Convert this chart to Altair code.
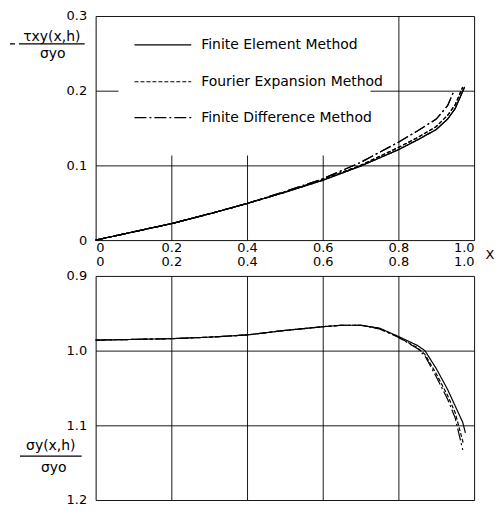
import altair as alt
import pandas as pd

methods = ["Finite Element Method", "Fourier Expansion Method", "Finite Difference Method"]

# Top panel: -tau_xy(x,h)/sigma_yo
x_top_fem = [0, 0.1, 0.2, 0.3, 0.4, 0.5, 0.6, 0.7, 0.8, 0.85, 0.9, 0.93, 0.95, 0.975]
tau_fem = [0, 0.011, 0.022, 0.035, 0.049, 0.064, 0.080, 0.099, 0.121, 0.134, 0.148, 0.162, 0.176, 0.205]
x_top_ffm = [0, 0.1, 0.2, 0.3, 0.4, 0.5, 0.6, 0.7, 0.8, 0.85, 0.9, 0.93, 0.95, 0.97]
tau_ffm = [0, 0.011, 0.022, 0.035, 0.049, 0.064, 0.081, 0.100, 0.124, 0.137, 0.152, 0.167, 0.181, 0.205]
x_top_fdm = [0, 0.1, 0.2, 0.3, 0.4, 0.5, 0.6, 0.7, 0.8, 0.85, 0.9, 0.93, 0.947]
tau_fdm = [0, 0.011, 0.022, 0.035, 0.049, 0.065, 0.082, 0.104, 0.131, 0.146, 0.162, 0.180, 0.200]

# Bottom panel: sigma_y(x,h)/sigma_yo (reversed axis)
x_bot_fem = [0, 0.1, 0.2, 0.3, 0.4, 0.5, 0.6, 0.65, 0.7, 0.75, 0.8, 0.85, 0.87, 0.9, 0.93, 0.95, 0.97, 0.977]
sig_fem = [0.986, 0.985, 0.984, 0.982, 0.979, 0.973, 0.968, 0.966, 0.966, 0.970, 0.981, 0.993, 1.000, 1.024, 1.052, 1.074, 1.096, 1.110]
x_bot_ffm = [0, 0.1, 0.2, 0.3, 0.4, 0.5, 0.6, 0.65, 0.7, 0.75, 0.8, 0.85, 0.87, 0.9, 0.93, 0.95, 0.972]
sig_ffm = [0.986, 0.985, 0.984, 0.982, 0.979, 0.973, 0.968, 0.966, 0.966, 0.970, 0.982, 0.996, 1.005, 1.031, 1.060, 1.083, 1.125]
x_bot_fdm = [0, 0.1, 0.2, 0.3, 0.4, 0.5, 0.6, 0.65, 0.7, 0.75, 0.8, 0.85, 0.87, 0.9, 0.93, 0.95, 0.970]
sig_fdm = [0.986, 0.985, 0.984, 0.982, 0.979, 0.973, 0.968, 0.966, 0.966, 0.971, 0.982, 0.997, 1.007, 1.035, 1.065, 1.090, 1.133]

x_ticks = [0, 0.2, 0.4, 0.6, 0.8, 1.0]
top_y_ticks = [0, 0.1, 0.2, 0.3]
bot_y_ticks = [0.9, 1.0, 1.1, 1.2]

top_df = pd.concat([
    pd.DataFrame({"x": x_top_fem, "v": tau_fem, "method": methods[0]}),
    pd.DataFrame({"x": x_top_ffm, "v": tau_ffm, "method": methods[1]}),
    pd.DataFrame({"x": x_top_fdm, "v": tau_fdm, "method": methods[2]}),
])
bot_df = pd.concat([
    pd.DataFrame({"x": x_bot_fem, "v": sig_fem, "method": methods[0]}),
    pd.DataFrame({"x": x_bot_ffm, "v": sig_ffm, "method": methods[1]}),
    pd.DataFrame({"x": x_bot_fdm, "v": sig_fdm, "method": methods[2]}),
])

dashes = [[1, 0], [4, 2], [12, 3, 2, 3]]
FONT = "DejaVu Sans"
LS = 13
W, H = 380, 225
one = pd.DataFrame({"a": [0]})

dash_enc = alt.StrokeDash("method:N", scale=alt.Scale(domain=methods, range=dashes), legend=None)
lbl_expr = "datum.value == 0 ? '0' : format(datum.value, '.1f')"
ax_common = dict(title=None, labelFont=FONT, labelFontSize=LS, labelColor="black",
                 grid=True, gridColor="black", gridOpacity=1, gridWidth=0.9,
                 ticks=False, domain=False)

top_lines = alt.Chart(top_df).mark_line(color="black", strokeWidth=1.2).encode(
    x=alt.X("x:Q", scale=alt.Scale(domain=[0, 1]),
            axis=alt.Axis(values=x_ticks, labelExpr=lbl_expr, orient="bottom", labelPadding=1, **ax_common)),
    y=alt.Y("v:Q", scale=alt.Scale(domain=[0, 0.3]),
            axis=alt.Axis(values=top_y_ticks, labelExpr=lbl_expr, labelPadding=9, **ax_common)),
    strokeDash=dash_enc,
)

def rule(x1, x2, y, dash=None, width=1.2):
    kw = {"color": "black", "strokeWidth": width}
    if dash:
        kw["strokeDash"] = dash
    return alt.Chart(one).mark_rule(**kw).encode(x=alt.value(x1), x2=alt.value(x2), y=alt.value(y))

def label(txt, x, y, align="left", size=14):
    return alt.Chart(one).mark_text(text=txt, align=align, baseline="middle", font=FONT,
                                    fontSize=size, color="black").encode(x=alt.value(x), y=alt.value(y))

legend_box = alt.Chart(one).mark_rect(color="white").encode(
    x=alt.value(23), x2=alt.value(276), y=alt.value(1), y2=alt.value(140))

top = alt.layer(
    top_lines,
    legend_box,
    top_lines,
    rule(39, 96, 29, None),
    rule(39, 96, 66, dashes[1]),
    rule(39, 96, 102, dashes[2]),
    label(methods[0], 106, 29),
    label(methods[1], 106, 66),
    label(methods[2], 106, 102),
    label("τxy(x,h)", -44, 21, align="center"),
    rule(-77, -11, 28, None, 1.3),
    rule(-86, -81, 28, None, 1.3),
    label("σyo", -43, 38, align="center"),
).properties(width=W, height=H)

bot_lines = alt.Chart(bot_df).mark_line(color="black", strokeWidth=1.2).encode(
    x=alt.X("x:Q", scale=alt.Scale(domain=[0, 1]),
            axis=alt.Axis(values=x_ticks, labelExpr=lbl_expr, orient="top", labelPadding=7, **ax_common)),
    y=alt.Y("v:Q", scale=alt.Scale(domain=[0.9, 1.2], reverse=True),
            axis=alt.Axis(values=bot_y_ticks, format=".1f", labelPadding=9, **ax_common)),
    strokeDash=dash_enc,
)

bottom = alt.layer(
    bot_lines,
    label("σy(x,h)", -45, 171, align="center"),
    rule(-76, -14, 181, None, 1.3),
    label("σyo", -42, 193, align="center"),
    label("X", 396, -21, align="center", size=13),
).properties(width=W, height=H)

chart = alt.vconcat(top, bottom, spacing=36, bounds="flush").properties(
    padding={"left": 0, "top": 0, "right": 0, "bottom": 0}
).configure_view(
    stroke="black", strokeWidth=1.5
).configure(background="white")

chart.save("out.html", embed_options={"renderer": "svg", "actions": False})
